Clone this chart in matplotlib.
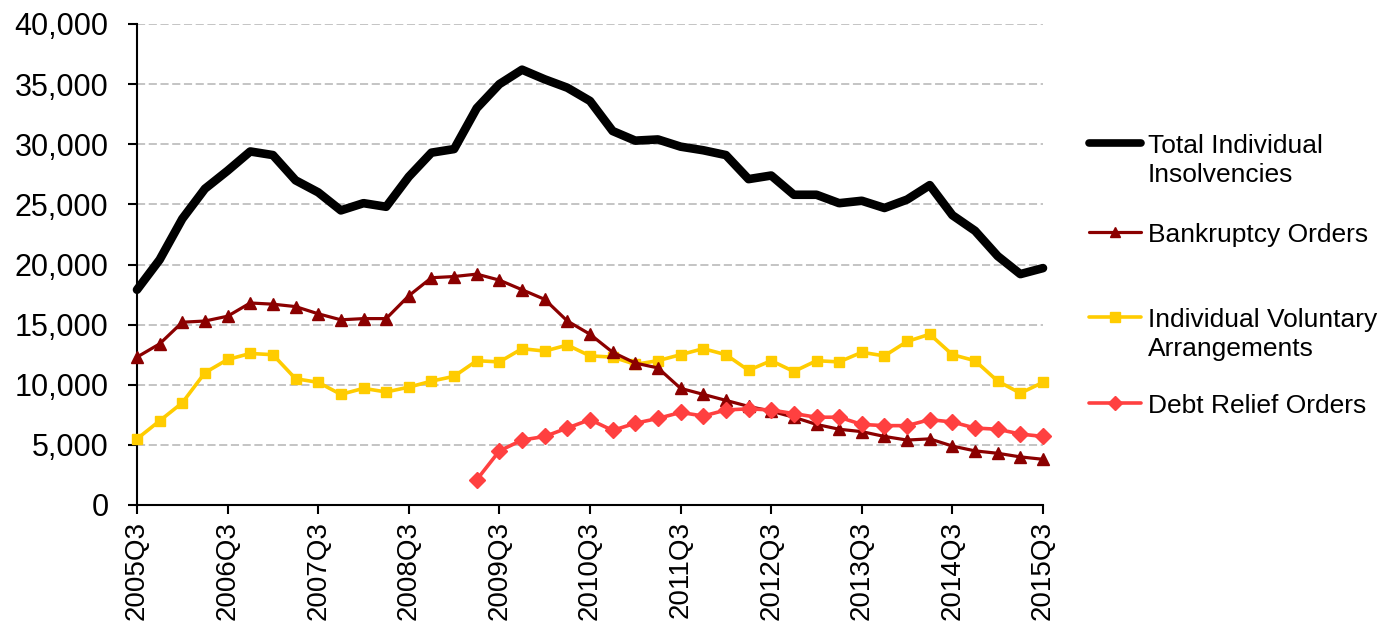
import numpy as np
import matplotlib
matplotlib.use("Agg")
import matplotlib.pyplot as plt
from matplotlib.lines import Line2D
from matplotlib.ticker import FuncFormatter, MultipleLocator

plt.rcParams['font.family'] = ['Liberation Sans', 'DejaVu Sans']

# ---- data ----
quarters = []
for yr in range(2005, 2016):
    for q in range(1, 5):
        if (yr == 2005 and q < 3) or (yr == 2015 and q > 3):
            continue
        quarters.append(f"{yr}Q{q}")

total = [17900, 20400, 23800, 26300, 27800, 29400, 29100, 27000, 26000, 24500,
         25100, 24800, 27300, 29300, 29600, 33000, 35000, 36200, 35400, 34700,
         33600, 31100, 30300, 30400, 29800, 29500, 29100, 27100, 27400, 25800,
         25800, 25100, 25300, 24700, 25400, 26600, 24100, 22800, 20700, 19200,
         19700]
bankruptcy = [12300, 13400, 15200, 15300, 15700, 16800, 16700, 16500, 15900, 15400,
              15500, 15500, 17400, 18900, 19000, 19200, 18700, 17900, 17100, 15300,
              14200, 12700, 11800, 11400, 9700, 9200, 8700, 8200, 7800, 7300,
              6700, 6300, 6100, 5700, 5400, 5500, 4900, 4500, 4300, 4000,
              3800]
iva = [5500, 7000, 8500, 11000, 12100, 12600, 12500, 10500, 10200, 9200,
       9700, 9400, 9800, 10300, 10700, 12000, 11900, 13000, 12800, 13300,
       12400, 12300, 11700, 12000, 12500, 13000, 12500, 11200, 12000, 11100,
       12000, 11900, 12700, 12400, 13600, 14200, 12500, 12000, 10300, 9300,
       10200]
dro = [np.nan] * 15 + [2100, 4500, 5400, 5700, 6400, 7100, 6200, 6800, 7200, 7700,
                       7400, 7900, 8000, 7900, 7600, 7300, 7300, 6700, 6600, 6600,
                       7100, 6900, 6400, 6300, 5900, 5700]

series_labels = ["Total Individual\nInsolvencies", "Bankruptcy Orders",
                 "Individual Voluntary\nArrangements", "Debt Relief Orders"]

c_total = "#000000"
c_bank = "#8B0000"
c_iva = "#FFCC00"
c_dro = "#FF4040"

fig = plt.figure(figsize=(13.94, 6.28), dpi=100)
W, H = 1394, 628
ax = fig.add_axes([137 / W, 1 - 505 / H, (1043 - 137) / W, (505 - 24) / H])

x = np.arange(len(quarters))
ax.plot(x, total, color=c_total, lw=6.2, solid_capstyle='round', solid_joinstyle='round',
        zorder=5, clip_on=False)
ax.plot(x, bankruptcy, color=c_bank, lw=2.3, marker='^', ms=8, mfc=c_bank, mec=c_bank,
        zorder=4, clip_on=False)
ax.plot(x, iva, color=c_iva, lw=2.6, marker='s', ms=7.5, mfc=c_iva, mec=c_iva,
        zorder=3, clip_on=False)
ax.plot(x, dro, color=c_dro, lw=2.6, marker='D', ms=8, mfc=c_dro, mec=c_dro,
        zorder=4, clip_on=False)

ax.set_xlim(0, len(quarters) - 1)
ax.set_ylim(0, 40000)
ax.yaxis.set_major_locator(MultipleLocator(5000))
ax.yaxis.set_major_formatter(FuncFormatter(lambda v, p: f"{int(v):,}"))
ax.set_xticks(x[::4])
ax.set_xticklabels(quarters[::4], rotation=90)

ax.grid(axis='y', color='#BFBFBF', linestyle=(0, (4.5, 2)), lw=1.3, zorder=0)
ax.set_axisbelow(True)
for s in ['top', 'right']:
    ax.spines[s].set_visible(False)
for s in ['left', 'bottom']:
    ax.spines[s].set_linewidth(1.5)
ax.tick_params(axis='y', direction='out', length=6.5, width=1.5, labelsize=22, pad=14)
ax.tick_params(axis='x', direction='out', length=6.5, width=1.5, labelsize=20, pad=5)

# ---- legend drawn in figure pixel coordinates ----
handles = [
    dict(color=c_total, lw=5.5, marker=None, ms=0),
    dict(color=c_bank, lw=2.3, marker='^', ms=7),
    dict(color=c_iva, lw=2.6, marker='s', ms=7),
    dict(color=c_dro, lw=2.6, marker='D', ms=7),
]
handle_y = [143, 232, 317, 403]
for hd, hy, lab in zip(handles, handle_y, series_labels):
    yf = 1 - hy / H
    ln = Line2D([1089 / W, 1141 / W], [yf, yf], transform=fig.transFigure,
                color=hd['color'], lw=hd['lw'], solid_capstyle='round')
    fig.add_artist(ln)
    if hd['marker']:
        mk = Line2D([1115 / W], [yf], transform=fig.transFigure, marker=hd['marker'],
                    ms=hd['ms'], color=hd['color'], mfc=hd['color'], mec=hd['color'],
                    lw=0)
        fig.add_artist(mk)
    for i, part in enumerate(lab.split("\n")):
        by = hy + 10 + i * 29
        fig.text(1148 / W, 1 - by / H, part, fontsize=19, va='baseline', ha='left')

fig.savefig("out.png", dpi=100)
